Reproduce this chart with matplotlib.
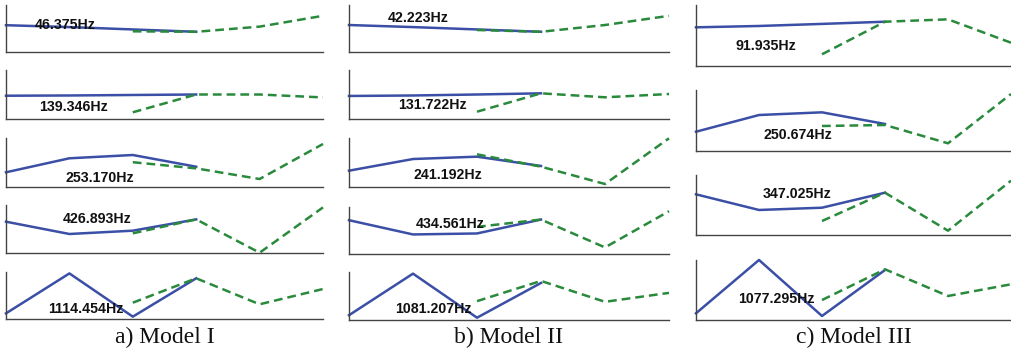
import matplotlib
matplotlib.use("Agg")
import matplotlib.pyplot as plt

# mode shape data (normalised amplitude, 0 = bottom of panel, 1 = top)
x_blue = [0, 1, 2, 3]
x_green = [2, 3, 4, 5]

model_I_blue = [[0.57, 0.53, 0.48, 0.43], [0.475, 0.48, 0.49, 0.50],
                [0.30, 0.586, 0.653, 0.414], [0.652, 0.396, 0.465, 0.70],
                [0.12, 0.97, 0.05, 0.866]]
model_I_green = [[0.44, 0.43, 0.54, 0.77], [0.137, 0.50, 0.50, 0.44],
                 [0.506, 0.38, 0.163, 0.878], [0.41, 0.70, 0.006, 0.95],
                 [0.347, 0.866, 0.313, 0.638]]
model_I_freq = ["46.375Hz", "139.346Hz", "253.170Hz", "426.893Hz", "1114.454Hz"]

model_II_blue = [[0.574, 0.53, 0.48, 0.43], [0.47, 0.48, 0.50, 0.524],
                 [0.333, 0.571, 0.619, 0.429], [0.719, 0.416, 0.437, 0.733],
                 [0.10, 0.966, 0.048, 0.772]]
model_II_green = [[0.468, 0.43, 0.574, 0.77], [0.149, 0.524, 0.443, 0.51],
                  [0.667, 0.415, 0.061, 0.994], [0.577, 0.733, 0.14, 0.91],
                  [0.393, 0.814, 0.379, 0.565]]
model_II_freq = ["42.223Hz", "131.722Hz", "241.192Hz", "434.561Hz", "1081.207Hz"]

model_III_blue = [[0.634, 0.656, 0.69, 0.726], [0.316, 0.59, 0.634, 0.443],
                  [0.678, 0.417, 0.455, 0.705], [0.112, 1.0, 0.067, 0.833]]
model_III_green = [[0.192, 0.726, 0.765, 0.382], [0.41, 0.426, 0.126, 0.934],
                   [0.233, 0.705, 0.072, 0.905], [0.333, 0.845, 0.40, 0.595]]
model_III_freq = ["91.935Hz", "250.674Hz", "347.025Hz", "1077.295Hz"]

captions = ["a) Model I", "b) Model II", "c) Model III"]

W, H = 1011, 353
BLUE = "#3b4fa6"
GREEN = "#2a8a3c"

# panel layout in pixels: (left, right), list of (top, bottom)
columns = [
    ((6, 323), [(5, 52), (70, 119), (138, 187), (205, 253), (272, 319)]),
    ((349, 669), [(5, 52), (70, 119), (138, 187), (207, 254), (272, 320)]),
    ((696, 1011), [(5, 66), (90, 151), (175, 235), (260, 320)]),
]
# label positions in pixels: (left x, center y)
label_pos = [
    [(35, 25), (39, 106.7), (65, 177.7), (63, 219.3), (48, 309.3)],
    [(388, 18.3), (398, 105), (413, 175), (416, 224.3), (395, 309.3)],
    [(736, 46), (763, 135), (763, 194), (738, 299.3)],
]
caption_y = 337

fig = plt.figure(figsize=(W / 100, H / 100), dpi=100)

models = [(model_I_blue, model_I_green, model_I_freq),
          (model_II_blue, model_II_green, model_II_freq),
          (model_III_blue, model_III_green, model_III_freq)]

for c, ((left, right), rows) in enumerate(columns):
    blues, greens, freqs = models[c]
    for r, (top, bottom) in enumerate(rows):
        ax = fig.add_axes([left / W, 1 - bottom / H, (right - left) / W, (bottom - top) / H])
        ax.plot(x_blue, blues[r], color=BLUE, lw=1.8, clip_on=False)
        ax.plot(x_green, greens[r], color=GREEN, lw=1.8, ls=(0, (3.5, 2)), clip_on=False)
        ax.set_xlim(0, 5)
        ax.set_ylim(0, 1)
        ax.set_xticks([])
        ax.set_yticks([])
        ax.patch.set_alpha(0)
        for s in ["top", "right"]:
            ax.spines[s].set_visible(False)
        for s in ["left", "bottom"]:
            ax.spines[s].set_color("#444444")
            ax.spines[s].set_linewidth(1.0)
        lx, ly = label_pos[c][r]
        fig.text(lx / W, 1 - ly / H, freqs[r], fontsize=10.2, fontweight="bold",
                 family="Liberation Sans", ha="left", va="center", color="#111111")
    fig.text((left + right) / 2 / W, 1 - caption_y / H, captions[c], fontsize=17,
             family="Liberation Serif", ha="center", va="center", color="#111111")

fig.savefig("out.png", dpi=100)
